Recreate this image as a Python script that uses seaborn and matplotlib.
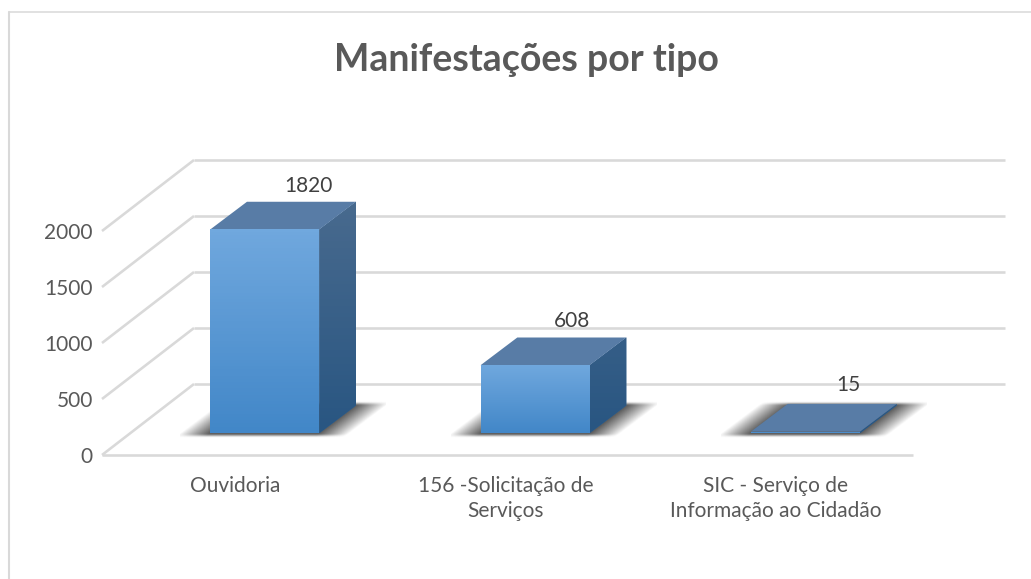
import numpy as np
import pandas as pd
import matplotlib
matplotlib.use("Agg")
import matplotlib.pyplot as plt
from matplotlib.lines import Line2D
from matplotlib.patches import Polygon
import seaborn as sns

# ---- data ----
categories = ["Ouvidoria", "156 -Solicitação de\nServiços",
              "SIC - Serviço de\nInformação ao Cidadão"]
values = [1820, 608, 15]
value_ticks = [0, 500, 1000, 1500, 2000]
title_text = "Manifestações por tipo"

# ---- page geometry (pixels, origin top-left) ----
W, H = 1031, 579
PX_PER_UNIT = 0.112
PX_PER_CAT = 270.33
FLOOR_LEFT, FLOOR_BASE = 102.0, 455.0      # front plane
BAR_LEFT, BAR_BASE = 129.6, 433.3          # plane of the bar fronts
WALL_DX, WALL_DY = 92.0, 71.0              # depth of the chart box
BAR_DX, BAR_DY = 36.7, 27.7                # depth of a bar
LABEL_NUDGE = [(0.5, 16), (-6, 17), (0, 19)]   # value-label offsets, pixels
GRID = "#D9D9D9"
FONT = "Lato"

sns.set_theme(style="white")
plt.rcParams["font.family"] = [FONT, "DejaVu Sans"]
fig = plt.figure(figsize=(W / 100, H / 100), dpi=100, facecolor="white")


def make_axes(left, base, top_px=40.0, bottom_px=570.0):
    """Axes spanning top_px..bottom_px whose scale is shared by both planes."""
    width = 3 * PX_PER_CAT
    ax = fig.add_axes([left / W, 1 - bottom_px / H, width / W, (bottom_px - top_px) / H])
    ax.set_xlim(-0.5, 2.5)
    ax.set_ylim((base - bottom_px) / PX_PER_UNIT, (base - top_px) / PX_PER_UNIT)
    ax.patch.set_alpha(0)
    for s in ax.spines.values():
        s.set_visible(False)
    return ax


# outer chart frame: only the top and left edges show in the crop
fig.add_artist(Line2D([9 / W, 1], [1 - 12 / H, 1 - 12 / H], transform=fig.transFigure,
                      color="#DEDEDE", lw=1.3))
fig.add_artist(Line2D([9 / W, 9 / W], [0, 1 - 12 / H], transform=fig.transFigure,
                      color="#D9D9D9", lw=1.5))

# ---- front plane: ticks, walls, floor ----
ax_front = make_axes(FLOOR_LEFT, FLOOR_BASE)
ax_front.set_xticks([])
ax_front.set_yticks(value_ticks, [str(v) for v in value_ticks])
ax_front.grid(False)
ax_front.tick_params(axis="y", length=0, pad=6.5, labelsize=15, labelcolor="#595959")
for i, c in enumerate(categories):
    ax_front.annotate(c, xy=(i, 0), xytext=(-2, -21), textcoords="offset pixels",
                      ha="center", va="top", fontsize=15, color="#595959",
                      linespacing=1.3, annotation_clip=False)

wall_dx = WALL_DX / PX_PER_CAT
wall_dy = WALL_DY / PX_PER_UNIT
line_w = 2.6 * 72 / 100
for v in value_ticks:
    ax_front.plot([-0.5 + wall_dx, 2.5 + wall_dx], [v + wall_dy, v + wall_dy],
                  color=GRID, lw=line_w, clip_on=False, solid_capstyle="butt", zorder=1)
    ax_front.plot([-0.5, -0.5 + wall_dx], [v, v + wall_dy],
                  color=GRID, lw=line_w, clip_on=False, solid_capstyle="butt", zorder=1)
ax_front.plot([-0.5, 2.5], [0, 0], color=GRID, lw=line_w, clip_on=False,
              solid_capstyle="butt", zorder=1)

# ---- bar plane ----
ax = make_axes(BAR_LEFT, BAR_BASE)
df = pd.DataFrame({"tipo": categories, "valor": values})
sns.barplot(data=df, x="tipo", y="valor", ax=ax, width=109 / PX_PER_CAT,
            color="#5B9BD5", saturation=1, edgecolor="none", linewidth=0, zorder=3)
ax.set_xlabel("")
ax.set_ylabel("")
ax.set_xticks([])
ax.set_yticks([])
ax.grid(False)
xlim, ylim = (-0.5, 2.5), ax.get_ylim()
ax.set_xlim(*xlim)

dx = BAR_DX / PX_PER_CAT
dy = BAR_DY / PX_PER_UNIT


def vgrad(top, bottom, n=64):
    c = np.linspace(np.array(top, float), np.array(bottom, float), n) / 255
    return c[:, None, :]


for bar, v, (nx, ny) in zip(ax.patches, values, LABEL_NUDGE):
    x0, x1 = bar.get_x(), bar.get_x() + bar.get_width()
    h = bar.get_height()

    # soft floor shadow: a sheared box with soft edges
    spread_x = 30 / PX_PER_CAT
    spread_y = 4.5 / PX_PER_UNIT
    ext = (x0 - spread_x, x1 + dx + spread_x, -spread_y, dy + spread_y)
    xs = np.linspace(ext[0], ext[1], 320)
    ys = np.linspace(ext[3], ext[2], 80)
    gx, gy = np.meshgrid(xs, ys)
    u = gx - gy / dy * dx
    au = np.clip((u - (x0 - spread_x)) / spread_x, 0, 1) * np.clip(((x1 + spread_x) - u) / spread_x, 0, 1)
    av = np.clip((gy + spread_y) / spread_y, 0, 1) * np.clip(((dy + spread_y) - gy) / spread_y, 0, 1)
    alpha = (au ** 0.9) * (av * av * (3 - 2 * av)) * 0.82
    rgba = np.zeros(gx.shape + (4,))
    rgba[..., :3] = 0.22
    rgba[..., 3] = alpha
    ax.imshow(rgba, extent=ext, aspect="auto", zorder=1, interpolation="bilinear")

    # right side face with gradient
    side = Polygon([(x1, 0), (x1 + dx, dy), (x1 + dx, h + dy), (x1, h)],
                   closed=True, facecolor="#3A6A98", edgecolor="none", zorder=2)
    ax.add_patch(side)
    img = ax.imshow(vgrad((72, 106, 142), (41, 86, 130)),
                    extent=(x1, x1 + dx, 0, max(values) + dy), aspect="auto", zorder=2.1)
    img.set_clip_path(side)

    # top face
    ax.add_patch(Polygon([(x0, h), (x1, h), (x1 + dx, h + dy), (x0 + dx, h + dy)],
                         closed=True, facecolor="#587CA6", edgecolor="none", zorder=2.2))

    # front face gradient, clipped by the seaborn bar
    front = ax.imshow(vgrad((112, 168, 222), (66, 135, 200)),
                      extent=(x0, x1, 0, max(h, 1)), aspect="auto", zorder=3.1)
    front.set_clip_path(bar)

    # value label
    ax.annotate(str(v), xy=((x0 + x1) / 2 + dx * 1.17, h + dy), xytext=(nx, ny),
                textcoords="offset pixels", ha="center", va="center",
                fontsize=15, color="#404040", zorder=6, annotation_clip=False)

ax.set_xlim(*xlim)
ax.set_ylim(*ylim)

fig.text(526 / W, 1 - 60 / H, title_text, ha="center", va="center",
         fontsize=27, fontweight="bold", color="#595959")

fig.savefig("out.png", dpi=100, facecolor="white")
